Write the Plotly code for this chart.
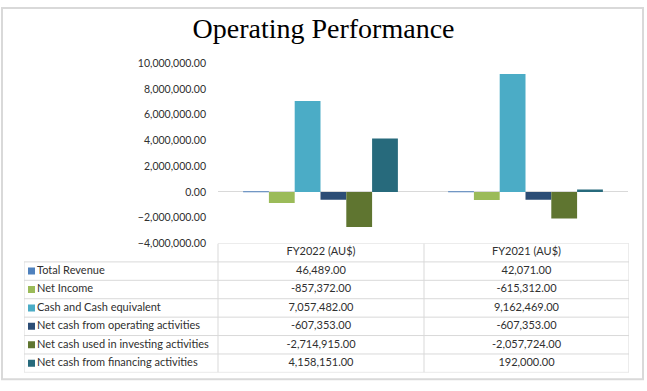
import plotly.graph_objects as go

W, H = 647, 391

categories = ["FY2022 (AU$)", "FY2021 (AU$)"]
series_names = [
    "Total Revenue",
    "Net Income",
    "Cash and Cash equivalent",
    "Net cash from operating activities",
    "Net cash used in investing activities",
    "Net cash from financing activities",
]
total_revenue = [46489.00, 42071.00]
net_income = [-857372.00, -615312.00]
cash_equiv = [7057482.00, 9162469.00]
net_cash_operating = [-607353.00, -607353.00]
net_cash_investing = [-2714915.00, -2057724.00]
net_cash_financing = [4158151.00, 192000.00]
series_values = [total_revenue, net_income, cash_equiv,
                 net_cash_operating, net_cash_investing, net_cash_financing]
series_colors = ["#4F81BD", "#9BBB59", "#4BACC6", "#2C4D75", "#5F7530", "#276A7C"]
y_ticks = [-4000000, -2000000, 0, 2000000, 4000000, 6000000, 8000000, 10000000]

# ---- layout constants (pixels) ----
TABLE_LEFT, TABLE_RIGHT, TABLE_TOP, TABLE_BOTTOM = 24, 629, 245, 378
COL_EDGES = [0, 194, 400, 605]          # in table x units (px from table left)
GRID = "#D9D9D9"
TXT = "#303030"
FONT = "Lato"
TABLE_FONT_SIZE = 11


def px_x(v):
    return v / W


def px_y(v):
    return 1 - v / H


fig = go.Figure()
for name, vals, col in zip(series_names, series_values, series_colors):
    fig.add_trace(go.Bar(x=categories, y=vals, name=name, marker_color=col,
                         marker_line_width=0, showlegend=False, hoverinfo="skip"))

# ---- data table drawn on its own axes (x2 / y2) ----
n_rows = len(series_names) + 1
row_mid = [i + 0.5 for i in range(1, n_rows)]
col_centers = [(COL_EDGES[i] + COL_EDGES[i + 1]) / 2 for i in range(1, len(COL_EDGES) - 1)]
tfont = dict(family=FONT, size=TABLE_FONT_SIZE, color=TXT)

# header
fig.add_trace(go.Scatter(x=col_centers, y=[0.5] * len(categories), text=categories,
                         mode="text", textposition="middle center", textfont=tfont,
                         xaxis="x2", yaxis="y2", showlegend=False, hoverinfo="skip"))
# legend keys
fig.add_trace(go.Scatter(x=[7.5] * len(series_names), y=row_mid, mode="markers",
                         marker=dict(symbol="square", size=7, color=series_colors),
                         xaxis="x2", yaxis="y2", showlegend=False, hoverinfo="skip"))
# row labels
fig.add_trace(go.Scatter(x=[13] * len(series_names), y=row_mid, text=series_names,
                         mode="text", textposition="middle right", textfont=tfont,
                         xaxis="x2", yaxis="y2", showlegend=False, hoverinfo="skip"))
# values
for ci, cx in enumerate(col_centers):
    fig.add_trace(go.Scatter(x=[cx] * len(series_names), y=row_mid,
                             text=[f"{v[ci]:,.2f}" for v in series_values],
                             mode="text", textposition="middle center", textfont=tfont,
                             xaxis="x2", yaxis="y2", showlegend=False, hoverinfo="skip"))

shapes = []
line = dict(color=GRID, width=1)
# horizontal lines
shapes.append(dict(type="line", xref="x2", yref="y2", x0=COL_EDGES[1], x1=COL_EDGES[-1],
                   y0=0, y1=0, line=line))
for r in range(1, n_rows + 1):
    shapes.append(dict(type="line", xref="x2", yref="y2", x0=COL_EDGES[0], x1=COL_EDGES[-1],
                       y0=r, y1=r, line=line))
# vertical lines
shapes.append(dict(type="line", xref="x2", yref="y2", x0=COL_EDGES[0], x1=COL_EDGES[0],
                   y0=1, y1=n_rows, line=line))
for e in COL_EDGES[1:]:
    shapes.append(dict(type="line", xref="x2", yref="y2", x0=e, x1=e,
                       y0=0, y1=n_rows, line=line))
# outer chart border
shapes.append(dict(type="rect", xref="paper", yref="paper",
                   x0=px_x(2), x1=px_x(643), y0=px_y(385), y1=px_y(2),
                   line=dict(color=GRID, width=2), fillcolor="rgba(0,0,0,0)"))

fig.update_layout(
    width=W, height=H,
    margin=dict(l=0, r=0, t=0, b=0),
    paper_bgcolor="white", plot_bgcolor="rgba(0,0,0,0)",
    barmode="group", bargap=0.245, bargroupgap=0,
    title=dict(text="Operating Performance", x=0.5, xanchor="center",
               y=px_y(28), yanchor="middle",
               font=dict(family="Liberation Serif", size=28, color="#000000")),
    xaxis=dict(domain=[px_x(218), px_x(628)], showticklabels=False,
               showgrid=False, zeroline=False, showline=False, ticks=""),
    yaxis=dict(domain=[px_y(245), px_y(59)], range=[-4000000, 10000000],
               tickvals=y_ticks, tickformat=",.2f", showgrid=False,
               zeroline=True, zerolinecolor=GRID, zerolinewidth=1,
               showline=False, ticks="", ticklabelstandoff=11,
               tickfont=dict(family=FONT, size=10.5, color=TXT)),
    xaxis2=dict(domain=[px_x(TABLE_LEFT), px_x(TABLE_RIGHT)], range=[0, COL_EDGES[-1]],
                anchor="y2", visible=False, fixedrange=True),
    yaxis2=dict(domain=[px_y(TABLE_BOTTOM), px_y(TABLE_TOP)], range=[n_rows, 0],
                anchor="x2", visible=False, fixedrange=True),
    shapes=shapes,
)

fig.write_html("out.html", config={"displayModeBar": False},
               post_script="document.body.style.margin='0';")
